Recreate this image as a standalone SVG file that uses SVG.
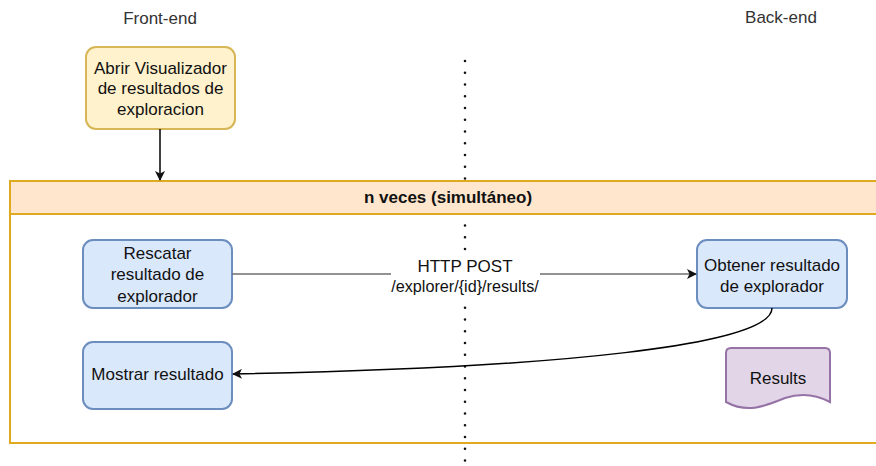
<svg xmlns="http://www.w3.org/2000/svg" width="876" height="466" viewBox="0 0 876 466">
  <defs>
    <style>
      text { font-family: "Liberation Sans", Arial, sans-serif; font-size: 17px; fill: #111; text-anchor: middle; }
      .title { fill: #333333; }
      .bold { font-weight: bold; }
      .blue { fill: #dae8fc; stroke: #6c8ebf; stroke-width: 2; }
      .yellow { fill: #fff2cc; stroke: #d6b656; stroke-width: 2; }
      .purple { fill: #e1d5e7; stroke: #9673a6; stroke-width: 2; }
      .lane { stroke: #e0aa20; stroke-width: 2; }
      .edge { fill: none; stroke: #000; stroke-width: 1.5; }
    </style>
    <marker id="arrow" viewBox="0 0 10 10" refX="9" refY="5" markerWidth="10" markerHeight="10" markerUnits="userSpaceOnUse" orient="auto">
      <path d="M0,0 L10,5 L0,10 L2.5,5 Z" fill="#111"/>
    </marker>
  </defs>

  <!-- column titles -->
  <text class="title" x="160" y="24">Front-end</text>
  <text class="title" x="781" y="23">Back-end</text>

  <!-- front-end / back-end divider -->
  <line x1="465" y1="61" x2="465" y2="466" stroke="#111" stroke-width="2.6" stroke-linecap="round" stroke-dasharray="0 11.75"/>

  <!-- repeated block -->
  <g id="loop">
    <rect x="10" y="214" width="876" height="229" fill="none" class="lane"/>
    <rect x="10" y="181" width="876" height="33" fill="#ffe6cc" class="lane"/>
    <text class="bold" x="448" y="203">n veces (simultáneo)</text>
  </g>

  <g id="abrir">
    <rect class="yellow" x="86" y="47" width="149" height="82" rx="10"/>
    <text x="160.5" y="74">Abrir Visualizador</text>
    <text x="160.5" y="94">de resultados de</text>
    <text x="160.5" y="115">exploracion</text>
  </g>

  <g id="rescatar">
    <rect class="blue" x="83" y="240" width="149" height="68" rx="10"/>
    <text x="157.5" y="259">Rescatar</text>
    <text x="157.5" y="280">resultado de</text>
    <text x="157.5" y="302">explorador</text>
  </g>

  <g id="obtener">
    <rect class="blue" x="697" y="240" width="150" height="68" rx="10"/>
    <text x="772" y="271">Obtener resultado</text>
    <text x="772" y="292">de explorador</text>
  </g>

  <g id="mostrar">
    <rect class="blue" x="83" y="342" width="149" height="67" rx="10"/>
    <text x="157.5" y="380">Mostrar resultado</text>
  </g>

  <g id="results">
    <path class="purple" d="M731,348 H825 Q830,348 830,353 V402 C815,394 800,393 785,398 C765,406 748,414 726,402 V353 Q726,348 731,348 Z"/>
    <text x="778" y="384">Results</text>
  </g>

  <g id="connectors">
    <line class="edge" x1="160" y1="129" x2="160" y2="180" marker-end="url(#arrow)"/>
    <line class="edge" x1="232" y1="274" x2="696" y2="274" style="stroke:#6e6e6e" marker-end="url(#arrow)"/>
    <path class="edge" d="M772,308 C772,345 560,368 233,374" marker-end="url(#arrow)"/>
    <rect x="391" y="255" width="149" height="43" fill="#fff"/>
    <text x="465" y="272">HTTP POST</text>
    <text x="465" y="292" style="font-size:16.2px">/explorer/{id}/results/</text>
  </g>
</svg>
